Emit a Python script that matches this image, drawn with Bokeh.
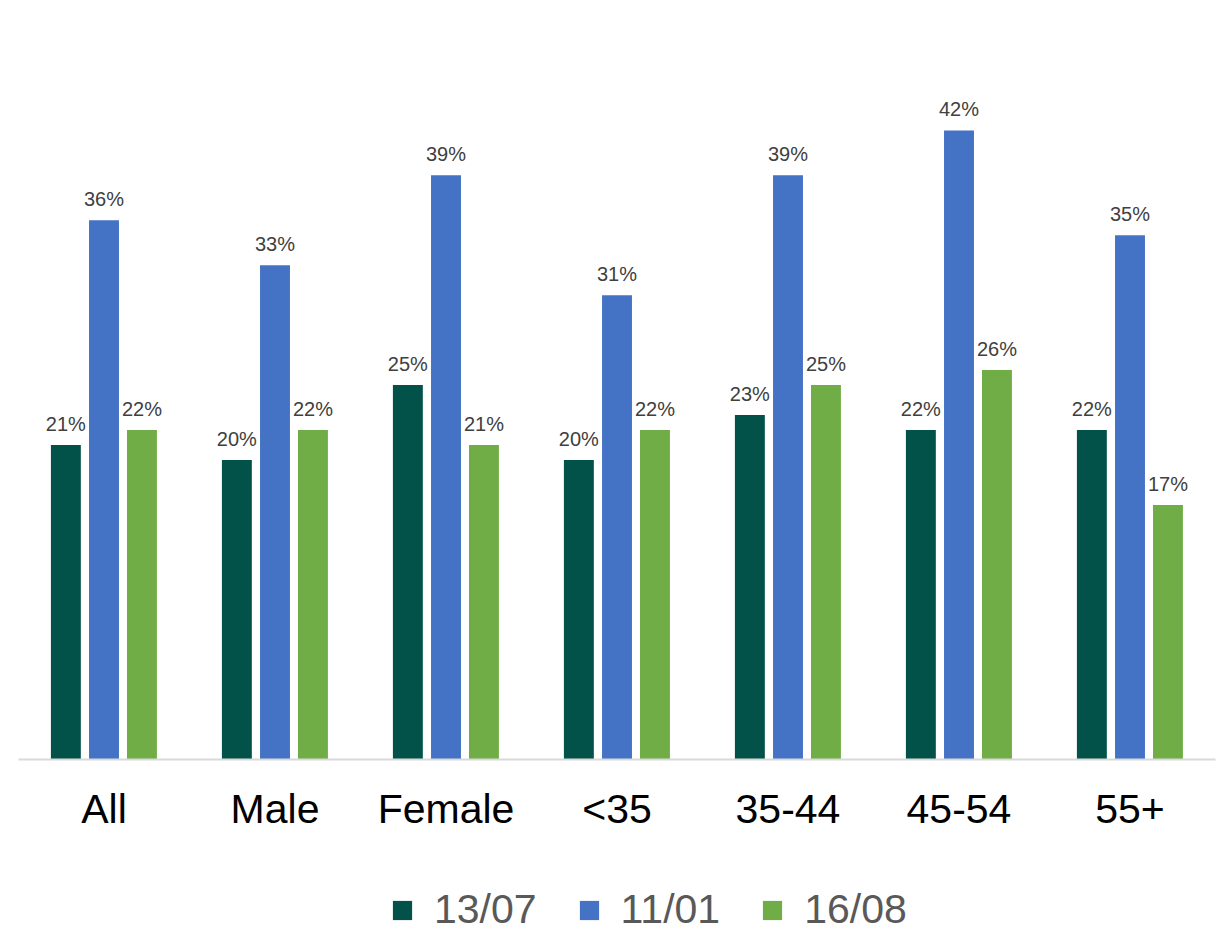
from bokeh.plotting import figure
from bokeh.layouts import column
from bokeh.models import ColumnDataSource, FactorRange, Legend, LegendItem, LabelSet, Range1d
from bokeh.transform import dodge
from bokeh.core.properties import value
from bokeh.embed import file_html
from bokeh.resources import INLINE

categories = ["All", "Male", "Female", "<35", "35-44", "45-54", "55+"]
series_names = ["13/07", "11/01", "16/08"]
s1307 = [21, 20, 25, 20, 23, 22, 22]
s1101 = [36, 33, 39, 31, 39, 42, 35]
s1608 = [22, 22, 21, 22, 25, 26, 17]
colors = ["#03524A", "#4472C4", "#70AD47"]

FONT = "Liberation Sans"

src = ColumnDataSource(dict(
    cat=categories,
    a=s1307, b=s1101, c=s1608,
    la=[f"{v}%" for v in s1307],
    lb=[f"{v}%" for v in s1101],
    lc=[f"{v}%" for v in s1608],
))

p = figure(x_range=FactorRange(*categories, range_padding=0), y_range=Range1d(0, 45),
           frame_width=1197, frame_height=674, output_backend="svg", toolbar_location=None,
           min_border_left=18, min_border_right=3, min_border_top=85, min_border_bottom=110)

offsets = [-0.223, 0.0, 0.222]
fields = ["a", "b", "c"]
lfields = ["la", "lb", "lc"]
for off, f, lf, col in zip(offsets, fields, lfields, colors):
    p.vbar(x=dodge("cat", off, range=p.x_range), top=f, width=0.175, source=src,
           fill_color=col, line_color=None)
    lbl = LabelSet(x=dodge("cat", off, range=p.x_range), y=f, text=lf, source=src,
                   text_align="center", text_baseline="alphabetic", y_offset=14,
                   text_font=value(FONT), text_font_size=value("20px"), text_color=value("#404040"))
    p.add_layout(lbl)

p.yaxis.visible = False
p.xgrid.grid_line_color = None
p.ygrid.grid_line_color = None
p.outline_line_color = None

xa = p.xaxis[0]
xa.axis_line_color = "#D9D9D9"
xa.axis_line_width = 2
xa.major_tick_line_color = None
xa.minor_tick_line_color = None
xa.major_tick_out = 0
xa.major_tick_in = 0
xa.major_label_standoff = 26
xa.major_label_text_font = FONT
xa.major_label_text_font_size = "41px"
xa.major_label_text_color = "#000000"

# legend strip below the chart (swatch renderers sit outside the visible range)
lg = figure(width=1218, height=64, x_range=Range1d(0, 1), y_range=Range1d(0, 1),
            output_backend="svg", toolbar_location=None,
            min_border_left=0, min_border_right=0, min_border_top=0, min_border_bottom=0)
lg.axis.visible = False
lg.grid.visible = False
lg.outline_line_color = None
swatch = ColumnDataSource(dict(x=[-10.0], top=[-10.0]))
dummies = [lg.vbar(x="x", top="top", width=0.1, source=swatch, fill_color=c, line_color=None)
           for c in colors]
legend = Legend(items=[LegendItem(label=n, renderers=[r]) for n, r in zip(series_names, dummies)],
                orientation="horizontal", location=(372, 0),
                glyph_width=24, glyph_height=24, label_standoff=20, spacing=40,
                label_text_font=FONT, label_text_font_size="41px", label_text_color="#595959",
                border_line_color=None, background_fill_alpha=0, padding=0, margin=0)
lg.add_layout(legend)

layout = column(p, lg, spacing=0)
open("out.html", "w").write(file_html(layout, INLINE))
